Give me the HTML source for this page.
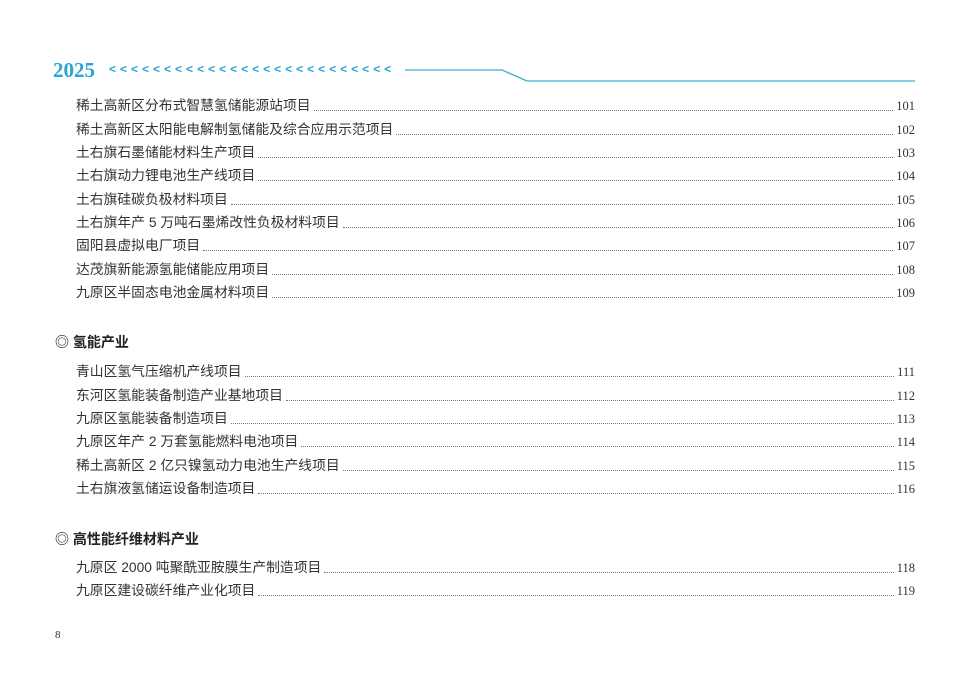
<!DOCTYPE html>
<html><head><meta charset="utf-8"><style>
html,body{margin:0;padding:0;background:#fff;}
body{width:973px;height:683px;position:relative;overflow:hidden;font-family:"Liberation Sans","Noto Sans CJK SC",sans-serif;color:#333;}
.r{position:absolute;left:76px;width:839px;height:18px;display:flex;align-items:flex-end;font-size:13.8px;line-height:18px;}
.r .t{white-space:nowrap;}
.r .d{flex:1;border-bottom:1px dotted #777;margin:0 3px 4px 3px;height:1px;}
.r .n{font-family:"Liberation Serif",serif;font-size:12.5px;color:#333;}
.h{position:absolute;left:55px;font-size:14px;font-weight:bold;color:#222;line-height:18px;}
</style></head><body>
<div style="position:absolute;left:53px;top:58px;font-family:'Liberation Serif',serif;font-size:21px;font-weight:bold;color:#27a5d4;line-height:24px;">2025</div>
<div style="position:absolute;left:109px;top:61px;font-family:'Liberation Sans',sans-serif;font-size:12px;font-weight:bold;color:#27a5d4;letter-spacing:4px;line-height:16px;">&lt;&lt;&lt;&lt;&lt;&lt;&lt;&lt;&lt;&lt;&lt;&lt;&lt;&lt;&lt;&lt;&lt;&lt;&lt;&lt;&lt;&lt;&lt;&lt;&lt;&lt;</div>
<svg style="position:absolute;left:0;top:0" width="973" height="683"><polyline points="405,70 502,70 527,81 915,81" fill="none" stroke="#3aaed6" stroke-width="1.3"/></svg>

<div class="r" style="top:97px"><span class="t">稀土高新区分布式智慧氢储能源站项目</span><span class="d"></span><span class="n">101</span></div>
<div class="r" style="top:121px"><span class="t">稀土高新区太阳能电解制氢储能及综合应用示范项目</span><span class="d"></span><span class="n">102</span></div>
<div class="r" style="top:144px"><span class="t">土右旗石墨储能材料生产项目</span><span class="d"></span><span class="n">103</span></div>
<div class="r" style="top:167px"><span class="t">土右旗动力锂电池生产线项目</span><span class="d"></span><span class="n">104</span></div>
<div class="r" style="top:191px"><span class="t">土右旗硅碳负极材料项目</span><span class="d"></span><span class="n">105</span></div>
<div class="r" style="top:214px"><span class="t">土右旗年产 5 万吨石墨烯改性负极材料项目</span><span class="d"></span><span class="n">106</span></div>
<div class="r" style="top:237px"><span class="t">固阳县虚拟电厂项目</span><span class="d"></span><span class="n">107</span></div>
<div class="r" style="top:261px"><span class="t">达茂旗新能源氢能储能应用项目</span><span class="d"></span><span class="n">108</span></div>
<div class="r" style="top:284px"><span class="t">九原区半固态电池金属材料项目</span><span class="d"></span><span class="n">109</span></div>

<div class="h" style="top:333px">◎ 氢能产业</div>
<div class="r" style="top:363px"><span class="t">青山区氢气压缩机产线项目</span><span class="d"></span><span class="n">111</span></div>
<div class="r" style="top:387px"><span class="t">东河区氢能装备制造产业基地项目</span><span class="d"></span><span class="n">112</span></div>
<div class="r" style="top:410px"><span class="t">九原区氢能装备制造项目</span><span class="d"></span><span class="n">113</span></div>
<div class="r" style="top:433px"><span class="t">九原区年产 2 万套氢能燃料电池项目</span><span class="d"></span><span class="n">114</span></div>
<div class="r" style="top:457px"><span class="t">稀土高新区 2 亿只镍氢动力电池生产线项目</span><span class="d"></span><span class="n">115</span></div>
<div class="r" style="top:480px"><span class="t">土右旗液氢储运设备制造项目</span><span class="d"></span><span class="n">116</span></div>

<div class="h" style="top:530px">◎ 高性能纤维材料产业</div>
<div class="r" style="top:559px"><span class="t">九原区 2000 吨聚酰亚胺膜生产制造项目</span><span class="d"></span><span class="n">118</span></div>
<div class="r" style="top:582px"><span class="t">九原区建设碳纤维产业化项目</span><span class="d"></span><span class="n">119</span></div>

<div style="position:absolute;left:55px;top:629px;font-family:'Liberation Serif',serif;font-size:11px;color:#333;">8</div>
</body></html>
